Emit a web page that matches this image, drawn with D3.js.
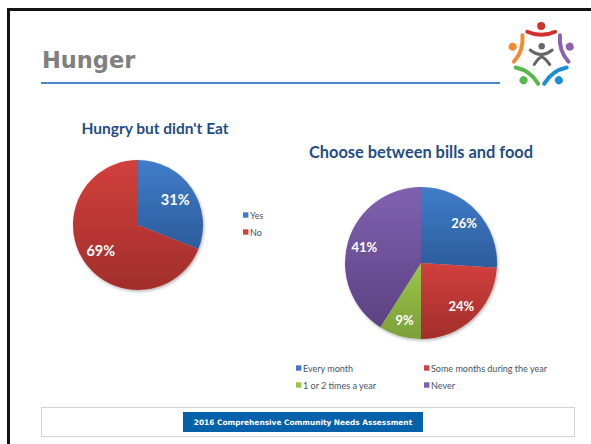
<!DOCTYPE html>
<html>
<head>
<meta charset="utf-8">
<script src="https://cdn.jsdelivr.net/npm/d3@7"></script>
<style>
  body { margin: 0; background: #fff; }
  svg { display: block; }
</style>
</head>
<body>
<div id="chart"></div>
<script>
const pageTitle = 'Hunger'
const footerText = '2016 Comprehensive Community Needs Assessment'

const hungryTitle = 'Hungry but didn\'t Eat'
const hungryLabels = ['Yes', 'No']
const hungryValues = [31, 69]

const billsTitle = 'Choose between bills and food'
const billsLabels = ['Every month', 'Some months during the year', '1 or 2 times a year', 'Never']
const billsValues = [26, 24, 9, 41]

const width = 591
const height = 444

// office style colours, light top / dark bottom
const palette = {
  blue: ['#407dc9', '#2c5c9c'],
  red: ['#d1403c', '#a12e2b'],
  green: ['#9cc64a', '#7ca03a'],
  purple: ['#8061b0', '#5b4283']
}
const hungryColors = ['blue', 'red']
const billsColors = ['blue', 'red', 'green', 'purple']

const svg = d3.select('#chart').append('svg')
  .attr('width', width)
  .attr('height', height)

const defs = svg.append('defs')

Object.keys(palette).forEach((k) => {
  const grad = defs.append('linearGradient')
    .attr('id', 'g-' + k)
    .attr('x1', 0).attr('y1', 0)
    .attr('x2', 0).attr('y2', 1)
  grad.append('stop').attr('offset', '0%').attr('stop-color', palette[k][0])
  grad.append('stop').attr('offset', '100%').attr('stop-color', palette[k][1])
})

defs.append('filter')
  .attr('id', 'shadow')
  .attr('x', '-20%').attr('y', '-20%')
  .attr('width', '140%').attr('height', '140%')
  .append('feDropShadow')
  .attr('dx', 1).attr('dy', 1.5)
  .attr('stdDeviation', 1.6)
  .attr('flood-color', '#000')
  .attr('flood-opacity', 0.3)

// slide frame (runs off the right and bottom edges)
svg.append('rect')
  .attr('x', 8.5)
  .attr('y', 9.5)
  .attr('width', 620)
  .attr('height', 480)
  .attr('fill', 'none')
  .attr('stroke', '#141414')
  .attr('stroke-width', 3)

// heading
svg.append('text')
  .attr('x', 42)
  .attr('y', 68)
  .attr('font-family', 'DejaVu Sans')
  .attr('font-weight', 'bold')
  .attr('font-size', 22.5)
  .attr('fill', '#808080')
  .text(pageTitle)

svg.append('line')
  .attr('x1', 41).attr('x2', 500)
  .attr('y1', 83).attr('y2', 83)
  .attr('stroke', '#0d63ae')
  .attr('stroke-width', 1.5)

// logo: five people round a centre figure
const logo = svg.append('g').attr('transform', 'translate(541.2,56)')
const people = ['#d1312e', '#8a62ad', '#1d8ed6', '#57b749', '#f38a31']
const armArc = d3.arc()
  .innerRadius(32)
  .outerRadius(36)
  .startAngle(Math.PI - 0.48)
  .endAngle(Math.PI + 0.48)
  .cornerRadius(2)

people.forEach((c, i) => {
  const p = logo.append('g').attr('transform', `rotate(${i * 72})`)
  p.append('circle').attr('cx', 0).attr('cy', -30).attr('r', 4).attr('fill', c)
  p.append('path').attr('d', armArc()).attr('transform', 'translate(0,-55.3)').attr('fill', c)
})

logo.append('circle').attr('cx', 0.5).attr('cy', -9.7).attr('r', 3.2).attr('fill', '#666')
logo.append('path')
  .attr('d', 'M-11,-6 Q0,3 11,-6')
  .attr('fill', 'none').attr('stroke', '#666').attr('stroke-width', 3).attr('stroke-linecap', 'round')
logo.append('path')
  .attr('d', 'M-7,8.5 Q-2,1 0.5,1 Q3,1 8.5,8.5')
  .attr('fill', 'none').attr('stroke', '#666').attr('stroke-width', 3).attr('stroke-linecap', 'round')

const pie = d3.pie().sort(null).value(d => d)

const drawPie = (cx, cy, r, labelR, values, colors, fontSize) => {
  const g = svg.append('g').attr('transform', `translate(${cx},${cy})`)
  const arc = d3.arc().innerRadius(0).outerRadius(r)
  const labelArc = d3.arc().innerRadius(labelR).outerRadius(labelR)
  const slices = pie(values)

  g.append('g')
    .attr('filter', 'url(#shadow)')
    .selectAll('path')
    .data(slices)
    .enter()
    .append('path')
    .attr('d', arc)
    .attr('fill', (d, i) => `url(#g-${colors[i]})`)

  g.selectAll('text')
    .data(slices)
    .enter()
    .append('text')
    .attr('transform', d => `translate(${labelArc.centroid(d)})`)
    .attr('text-anchor', 'middle')
    .attr('dominant-baseline', 'central')
    .attr('font-family', 'Lato, sans-serif')
    .attr('font-weight', 'bold')
    .attr('font-size', fontSize)
    .attr('fill', '#fff')
    .text(d => d.data + '%')
}

const chartTitle = (x, y, size, txt) => {
  svg.append('text')
    .attr('x', x)
    .attr('y', y)
    .attr('text-anchor', 'middle')
    .attr('font-family', 'Lato, sans-serif')
    .attr('font-weight', 'bold')
    .attr('font-size', size)
    .attr('fill', '#1f4e86')
    .text(txt)
}

const legendItem = (x, y, colorKey, txt) => {
  svg.append('rect')
    .attr('x', x).attr('y', y - 2.7)
    .attr('width', 5.4).attr('height', 5.4)
    .attr('fill', palette[colorKey][0])
  svg.append('text')
    .attr('x', x + 7)
    .attr('y', y)
    .attr('dominant-baseline', 'central')
    .attr('font-family', 'Lato, sans-serif')
    .attr('font-size', 9)
    .attr('fill', '#44546a')
    .text(txt)
}

// left chart
chartTitle(155, 134, 15.5, hungryTitle)
drawPie(138, 225, 65, 45, hungryValues, hungryColors, 14.5)
hungryLabels.forEach((l, i) => legendItem(243, 215 + i * 17, hungryColors[i], l))

// right chart
chartTitle(421, 158, 16.4, billsTitle)
drawPie(421, 263, 76, 59, billsValues, billsColors, 13)
billsLabels.forEach((l, i) => {
  legendItem(i % 2 === 0 ? 296 : 424, 368 + Math.floor(i / 2) * 17, billsColors[i], l)
})

// footer
svg.append('rect')
  .attr('x', 41.5).attr('y', 407.5)
  .attr('width', 533).attr('height', 29)
  .attr('fill', '#fff')
  .attr('stroke', '#d4d4d4')
  .attr('stroke-width', 1)

svg.append('rect')
  .attr('x', 183).attr('y', 412)
  .attr('width', 240).attr('height', 20)
  .attr('fill', '#0561a9')

svg.append('text')
  .attr('x', 303)
  .attr('y', 422)
  .attr('text-anchor', 'middle')
  .attr('dominant-baseline', 'central')
  .attr('font-family', 'DejaVu Sans')
  .attr('font-weight', 'bold')
  .attr('font-size', 7.4)
  .attr('fill', '#fff')
  .text(footerText)
</script>
</body>
</html>
